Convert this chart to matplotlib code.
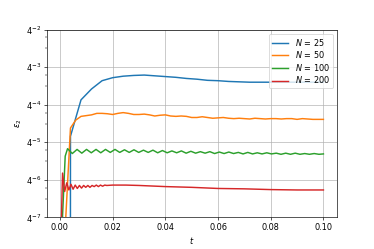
import matplotlib

matplotlib.use("Agg")

import matplotlib.pyplot as plt
import numpy as np

# values are log4(eps_2); -inf marks the zero error at t = 0
t_n25 = [0.0, 0.004, 0.008, 0.012, 0.016, 0.020, 0.024, 0.028, 0.032, 0.036, 0.040,
         0.044, 0.048, 0.052, 0.056, 0.060, 0.064, 0.068, 0.072, 0.076, 0.080,
         0.084, 0.088, 0.092, 0.096, 0.100]
log_n25 = [-np.inf, -4.84, -3.87, -3.58, -3.36, -3.28, -3.24, -3.22, -3.21, -3.23, -3.25,
           -3.27, -3.30, -3.32, -3.35, -3.36, -3.38, -3.39, -3.40, -3.40, -3.40,
           -3.40, -3.40, -3.40, -3.40, -3.40]

t_n50 = [0.0, 0.002, 0.004, 0.006, 0.008, 0.010, 0.012, 0.014, 0.016, 0.018, 0.020,
         0.022, 0.024, 0.026, 0.028, 0.030, 0.032, 0.034, 0.036, 0.038, 0.040,
         0.042, 0.044, 0.046, 0.048, 0.050, 0.052, 0.054, 0.056, 0.058, 0.060,
         0.062, 0.064, 0.066, 0.068, 0.070, 0.072, 0.074, 0.076, 0.078, 0.080,
         0.082, 0.084, 0.086, 0.088, 0.090, 0.092, 0.094, 0.096, 0.098, 0.100]
log_n50 = [-np.inf, -7.30, -4.62, -4.41, -4.31, -4.29, -4.27, -4.23, -4.23, -4.24, -4.26,
           -4.23, -4.21, -4.23, -4.26, -4.26, -4.25, -4.27, -4.30, -4.28, -4.27,
           -4.30, -4.31, -4.30, -4.31, -4.34, -4.34, -4.32, -4.34, -4.36, -4.35,
           -4.34, -4.36, -4.37, -4.36, -4.37, -4.38, -4.36, -4.37, -4.38, -4.37,
           -4.37, -4.38, -4.37, -4.37, -4.39, -4.37, -4.38, -4.39, -4.39, -4.39]

t_n100 = [0.0, 0.001, 0.002,
          0.0029, 0.0047, 0.0065, 0.0083, 0.0101, 0.0119, 0.0137, 0.0155, 0.0173, 0.0191,
          0.0209, 0.0227, 0.0245, 0.0263, 0.0281, 0.0299, 0.0317, 0.0335, 0.0353, 0.0371,
          0.0389, 0.0407, 0.0425, 0.0443, 0.0461, 0.0479, 0.0497, 0.0515, 0.0533, 0.0551,
          0.0569, 0.0587, 0.0605, 0.0623, 0.0641, 0.0659, 0.0677, 0.0695, 0.0713, 0.0731,
          0.0749, 0.0767, 0.0785, 0.0803, 0.0821, 0.0839, 0.0857, 0.0875, 0.0893, 0.0911,
          0.0929, 0.0947, 0.0965, 0.0983, 0.100]
log_n100 = [-np.inf, -6.95, -5.37,
            -5.17, -5.30, -5.19, -5.29, -5.19, -5.28, -5.19, -5.28, -5.19, -5.27,
            -5.19, -5.27, -5.20, -5.27, -5.20, -5.27, -5.21, -5.27, -5.21, -5.28,
            -5.22, -5.28, -5.23, -5.28, -5.23, -5.29, -5.24, -5.29, -5.25, -5.29,
            -5.25, -5.30, -5.26, -5.30, -5.26, -5.30, -5.27, -5.31, -5.27, -5.31,
            -5.28, -5.31, -5.28, -5.31, -5.29, -5.32, -5.29, -5.32, -5.29, -5.32,
            -5.30, -5.32, -5.30, -5.32, -5.31]

t_n200 = [0.0, 0.0005,
          0.0010, 0.0018, 0.0026, 0.0034, 0.0042, 0.0050, 0.0058, 0.0066, 0.0074, 0.0082,
          0.0090, 0.0098, 0.0106, 0.0114, 0.0122, 0.0130, 0.0138, 0.0146, 0.0154, 0.0162,
          0.0170, 0.0178,
          0.020, 0.025, 0.030, 0.040, 0.050, 0.060, 0.070, 0.080, 0.090, 0.100]
log_n200 = [-np.inf, -7.20,
            -5.82, -6.31, -6.08, -6.27, -6.12, -6.25, -6.14, -6.23, -6.15, -6.22,
            -6.15, -6.20, -6.15, -6.20, -6.15, -6.18, -6.14, -6.18, -6.14, -6.17,
            -6.14, -6.15,
            -6.14, -6.14, -6.15, -6.18, -6.20, -6.23, -6.24, -6.26, -6.27, -6.27]

series = [
    ("$N$ = 25", t_n25, log_n25),
    ("$N$ = 50", t_n50, log_n50),
    ("$N$ = 100", t_n100, log_n100),
    ("$N$ = 200", t_n200, log_n200),
]


def main() -> None:
    fig, ax = plt.subplots(figsize=(6.4, 6.4 * 249 / 374), dpi=374 / 6.4)
    fig.subplots_adjust(left=0.125, right=0.9, top=0.881, bottom=0.127)
    for label, t, logv in series:
        ax.plot(t, 4.0 ** np.asarray(logv), lw=1.8, label=label)
    ax.set_yscale("log", base=4)
    ax.set_ylim(4.0 ** -7, 4.0 ** -2)
    ax.set_xlabel("$t$")
    ax.set_ylabel(r"$\varepsilon_2$", labelpad=2)
    ax.grid(True)
    ax.legend(loc="upper right", labelspacing=0.2, borderpad=0.35)
    fig.savefig("out.png")
    plt.close(fig)


if __name__ == "__main__":
    main()
